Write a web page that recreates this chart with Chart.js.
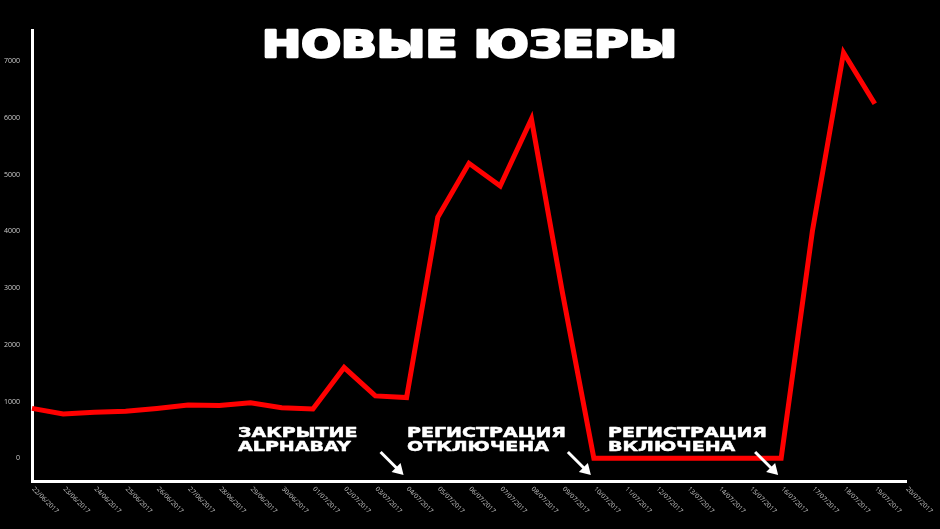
<!DOCTYPE html>
<html>
<head>
<meta charset="utf-8">
<script src="https://cdn.jsdelivr.net/npm/chart.js@4.4.0/dist/chart.umd.min.js"></script>
<style>
html, body { margin: 0; padding: 0; background: #000; }
#wrap { width: 940px; height: 529px; }
</style>
</head>
<body>
<div id="wrap"><canvas id="usersChart"></canvas></div>
<script>
// Chart data
const dates = [
    '22/06/2017', '23/06/2017', '24/06/2017', '25/06/2017', '26/06/2017',
    '27/06/2017', '28/06/2017', '29/06/2017', '30/06/2017', '01/07/2017',
    '02/07/2017', '03/07/2017', '04/07/2017', '05/07/2017', '06/07/2017',
    '07/07/2017', '08/07/2017', '09/07/2017', '10/07/2017', '11/07/2017',
    '12/07/2017', '13/07/2017', '14/07/2017', '15/07/2017', '16/07/2017',
    '17/07/2017', '18/07/2017', '19/07/2017', '20/07/2017'
];
const newUsers = [
    880, 780, 810, 830, 880, 940, 930, 980, 890, 870,
    1600, 1100, 1070, 4250, 5200, 4800, 5980, 2900, 0, 0,
    0, 0, 0, 0, 0, 4000, 7150, 6250, null
];
const yTicks = [0, 1000, 2000, 3000, 4000, 5000, 6000, 7000];
const titleText = 'НОВЫЕ ЮЗЕРЫ';
const eventDates = ['04/07/2017', '10/07/2017', '16/07/2017'];
const eventLabels = [
    ['ЗАКРЫТИЕ', 'ALPHABAY'],
    ['РЕГИСТРАЦИЯ', 'ОТКЛЮЧЕНА'],
    ['РЕГИСТРАЦИЯ', 'ВКЛЮЧЕНА']
];

// draw text stretched horizontally (wide display font look), with a stroke to make it heavier
function drawWide(ctx, text, x, y, scaleX, weight) {
    ctx.save();
    ctx.translate(x, y);
    ctx.scale(scaleX, 1);
    ctx.lineWidth = weight;
    ctx.lineJoin = 'round';
    ctx.strokeText(text, 0, 0);
    ctx.fillText(text, 0, 0);
    ctx.restore();
}

// Title, rotated date labels, annotations and arrows
const overlayPlugin = {
    id: 'overlay',
    afterDraw(chart) {
        const ctx = chart.ctx;
        const xScale = chart.scales.x;
        ctx.save();

        // date labels, going down to the right
        ctx.fillStyle = '#c4c4c4';
        ctx.font = '6.5px "Open Sans"';
        ctx.textAlign = 'left';
        ctx.textBaseline = 'middle';
        dates.forEach((d, i) => {
            const px = xScale.getPixelForValue(i);
            ctx.save();
            ctx.translate(px + 1, chart.chartArea.bottom + 7);
            ctx.rotate(Math.PI / 4);
            ctx.fillText(d, 0, 0);
            ctx.restore();
        });

        // title
        ctx.fillStyle = '#ffffff';
        ctx.strokeStyle = '#ffffff';
        ctx.textBaseline = 'alphabetic';
        ctx.font = 'bold 37px "DejaVu Sans"';
        const tw = ctx.measureText(titleText).width;
        drawWide(ctx, titleText, 262, 57, 415 / tw, 2.5);

        // annotations
        ctx.font = 'bold 14px "DejaVu Sans"';
        const sx = 159 / ctx.measureText('РЕГИСТРАЦИЯ').width;
        const textX = [238, 407, 608];
        eventLabels.forEach((lines, i) => {
            drawWide(ctx, lines[0], textX[i], 437, sx, 0.5);
            drawWide(ctx, lines[1], textX[i], 451, sx, 0.5);
        });

        // arrows pointing at the event dates
        ctx.lineWidth = 3;
        eventDates.forEach(d => {
            const px = xScale.getPixelForValue(dates.indexOf(d));
            const tipX = px - 3;
            const tipY = 475;
            ctx.beginPath();
            ctx.moveTo(tipX - 23, tipY - 23);
            ctx.lineTo(tipX - 5, tipY - 5);
            ctx.stroke();
            ctx.beginPath();
            ctx.moveTo(tipX, tipY);
            ctx.lineTo(tipX - 12, tipY - 3);
            ctx.lineTo(tipX - 3, tipY - 12);
            ctx.closePath();
            ctx.fill();
        });

        ctx.restore();
    }
};

const usersChart = new Chart(document.getElementById('usersChart').getContext('2d'), {
    type: 'line',
    data: {
        labels: dates,
        datasets: [{
            label: 'Новые юзеры',
            data: newUsers,
            borderColor: '#ff0000',
            borderWidth: 5,
            pointRadius: 0,
            tension: 0,
            fill: false
        }]
    },
    options: {
        responsive: true,
        maintainAspectRatio: false,
        animation: false,
        layout: {
            padding: { top: 30, right: 34, bottom: 0, left: 0 }
        },
        plugins: {
            legend: { display: false },
            tooltip: { enabled: false }
        },
        scales: {
            x: {
                offset: false,
                grid: { display: false },
                border: { color: '#ffffff', width: 3 },
                ticks: { display: false },
                afterFit(scale) { scale.height = 48; }
            },
            y: {
                min: -400,
                max: 7550,
                grid: { display: false },
                border: { color: '#ffffff', width: 3 },
                ticks: {
                    color: '#cccccc',
                    font: { family: 'Open Sans', size: 7 },
                    padding: 4,
                    callback: value => String(value)
                },
                afterBuildTicks(scale) {
                    scale.ticks = yTicks.map(v => ({ value: v }));
                },
                afterFit(scale) { scale.width = 32; }
            }
        }
    },
    plugins: [overlayPlugin]
});
</script>
</body>
</html>
